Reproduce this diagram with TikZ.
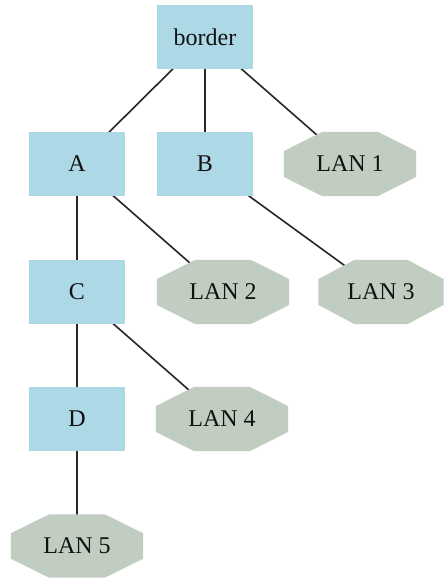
\documentclass[tikz,border=0pt]{standalone}
\usepackage{fontspec}
\setmainfont{Liberation Serif}
\usetikzlibrary{calc}
\definecolor{boxblue}{HTML}{ADD8E6}
\definecolor{langray}{HTML}{C1CDC1}
\definecolor{txt}{HTML}{111111}
\pgfdeclarelayer{background}
\pgfsetlayers{background,main}
\tikzset{
  router/.style={rectangle, fill=boxblue, draw=none, minimum width=96pt, minimum height=64pt, inner sep=0pt, text=txt, font=\fontsize{24}{27}\selectfont},
  lan/.style={rectangle, draw=none, minimum width=132pt, minimum height=64pt, inner sep=0pt, text=txt, font=\fontsize{24}{27}\selectfont},
  link/.style={draw=black!85, line width=1.6pt}
}
\newcommand\octfill[1]{%
  \fill[langray]
    ($(#1.north west)!0.29!(#1.north east)$) --
    ($(#1.north west)!0.71!(#1.north east)$) --
    ($(#1.north east)!0.30!(#1.south east)$) --
    ($(#1.north east)!0.70!(#1.south east)$) --
    ($(#1.south east)!0.29!(#1.south west)$) --
    ($(#1.south east)!0.71!(#1.south west)$) --
    ($(#1.south west)!0.30!(#1.north west)$) --
    ($(#1.south west)!0.70!(#1.north west)$) -- cycle;}
\begin{document}
\begin{tikzpicture}[x=1pt,y=-1pt]
\useasboundingbox (0,0) rectangle (445,578);
\node[router] (border) at (205,37) {border};
\node[router] (A) at (77,164) {A};
\node[router] (B) at (205,164) {B};
\node[lan] (L1) at (350,164) {LAN 1};
\node[router] (C) at (77,292) {C};
\node[lan] (L2) at (223,292) {LAN 2};
\node[lan, minimum width=125pt] (L3) at (381,292) {LAN 3};
\node[router] (D) at (77,419) {D};
\node[lan] (L4) at (222,419) {LAN 4};
\node[lan, minimum height=63pt] (L5) at (77,546) {LAN 5};
\begin{pgfonlayer}{background}
\fill[white] (0,0) rectangle (445,578);
\draw[link] (border.center) -- (A.center);
\draw[link] (border.center) -- (B.center);
\draw[link] (border.center) -- (L1.center);
\draw[link] (A.center) -- (C.center);
\draw[link] (A.center) -- (L2.center);
\draw[link] (B.center) -- (L3.center);
\draw[link] (C.center) -- (D.center);
\draw[link] (C.center) -- (L4.center);
\draw[link] (D.center) -- (L5.center);
\octfill{L1}
\octfill{L2}
\octfill{L3}
\octfill{L4}
\octfill{L5}
\end{pgfonlayer}
\end{tikzpicture}
\end{document}
